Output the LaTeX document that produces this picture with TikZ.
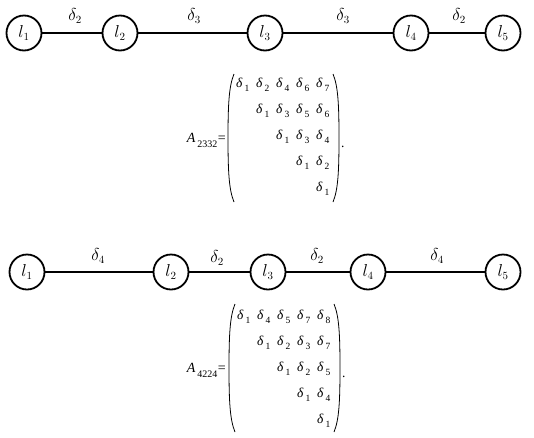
\documentclass[tikz,border=0pt]{standalone}
\usepackage{fontspec}
\setmainfont{Liberation Serif}
\newcommand\dd[1]{\textit{δ}\kern2pt\raisebox{-4pt}{\fontsize{9.5}{10}\selectfont #1}}
\newcommand\amat[1]{\textit{A}\kern2pt\raisebox{-5pt}{\fontsize{10}{11}\selectfont #1}\kern0.5pt=}
\begin{document}
\begin{tikzpicture}[x=1pt,y=-1pt,
  lnode/.style={circle,draw,line width=1.8pt,minimum size=35pt,inner sep=0pt,font=\fontsize{16}{18}\selectfont},
  edge/.style={line width=1.6pt},
  elab/.style={font=\fontsize{16}{18}\selectfont,inner sep=0pt},
  ment/.style={font=\fontsize{13.5}{15}\selectfont,inner sep=0pt,anchor=base west},
  alab/.style={font=\fontsize{14}{15}\selectfont,inner sep=0pt,anchor=base east},
  paren/.style={line width=0.8pt}]
\useasboundingbox (0,0) rectangle (534,437);
% top graph
\node[lnode] (a1) at (24,33) {$l_1$};
\node[lnode] (a2) at (120,33) {$l_2$};
\node[lnode] (a3) at (265,33) {$l_3$};
\node[lnode] (a4) at (411,33) {$l_4$};
\node[lnode] (a5) at (503,33) {$l_5$};
\draw[edge] (a1) -- (a2);
\draw[edge] (a2) -- (a3);
\draw[edge] (a3) -- (a4);
\draw[edge] (a4) -- (a5);
\node[elab] (ta) at (75,16) {$\delta_2$};
\node[elab] (tb) at (194,16) {$\delta_3$};
\node[elab] (tc) at (343,16) {$\delta_3$};
\node[elab] (td) at (459,16) {$\delta_2$};
% bottom graph
\node[lnode] (b1) at (27,272) {$l_1$};
\node[lnode] (b2) at (171,272) {$l_2$};
\node[lnode] (b3) at (268,272) {$l_3$};
\node[lnode] (b4) at (368,272) {$l_4$};
\node[lnode] (b5) at (503,272) {$l_5$};
\draw[edge] (b1) -- (b2);
\draw[edge] (b2) -- (b3);
\draw[edge] (b3) -- (b4);
\draw[edge] (b4) -- (b5);
\node[elab] (ba) at (98,256) {$\delta_4$};
\node[elab] (bb) at (217,258) {$\delta_2$};
\node[elab] (bc) at (317,256) {$\delta_2$};
\node[elab] (bd) at (437,256) {$\delta_4$};
% matrix 1
\node[alab] (A1) at (226,142) {\amat{2332}};
\draw[paren] (234,74) .. controls (229,86) and (228,104) .. (228,138) .. controls (228,172) and (229,190) .. (234,202);
\draw[paren] (333,74) .. controls (338,86) and (339,104) .. (339,138) .. controls (339,172) and (338,190) .. (333,202);
\node[ment] (p1) at (341,147) {.};
\node[ment] (m11) at (236,87) {\dd1};
\node[ment] (m12) at (256,87) {\dd2};
\node[ment] (m13) at (276,87) {\dd4};
\node[ment] (m14) at (296,87) {\dd6};
\node[ment] (m15) at (316,87) {\dd7};
\node[ment] (m22) at (256,113) {\dd1};
\node[ment] (m23) at (276,113) {\dd3};
\node[ment] (m24) at (296,113) {\dd5};
\node[ment] (m25) at (316,113) {\dd6};
\node[ment] (m33) at (276,139) {\dd1};
\node[ment] (m34) at (296,139) {\dd3};
\node[ment] (m35) at (316,139) {\dd4};
\node[ment] (m44) at (296,165) {\dd1};
\node[ment] (m45) at (316,165) {\dd2};
\node[ment] (m55) at (316,191) {\dd1};
% matrix 2
\node[alab] (A2) at (226,372) {\amat{4224}};
\draw[paren] (235,304) .. controls (230,316) and (229,334) .. (229,368) .. controls (229,402) and (230,420) .. (235,432);
\draw[paren] (334,304) .. controls (339,316) and (340,334) .. (340,368) .. controls (340,402) and (339,420) .. (334,432);
\node[ment] (p2) at (342,377) {.};
\node[ment] (n11) at (237,319) {\dd1};
\node[ment] (n12) at (257,319) {\dd4};
\node[ment] (n13) at (277,319) {\dd5};
\node[ment] (n14) at (297,319) {\dd7};
\node[ment] (n15) at (317,319) {\dd8};
\node[ment] (n22) at (257,345) {\dd1};
\node[ment] (n23) at (277,345) {\dd2};
\node[ment] (n24) at (297,345) {\dd3};
\node[ment] (n25) at (317,345) {\dd7};
\node[ment] (n33) at (277,371) {\dd1};
\node[ment] (n34) at (297,371) {\dd2};
\node[ment] (n35) at (317,371) {\dd5};
\node[ment] (n44) at (297,397) {\dd1};
\node[ment] (n45) at (317,397) {\dd4};
\node[ment] (n55) at (317,423) {\dd1};
\end{tikzpicture}
\end{document}
